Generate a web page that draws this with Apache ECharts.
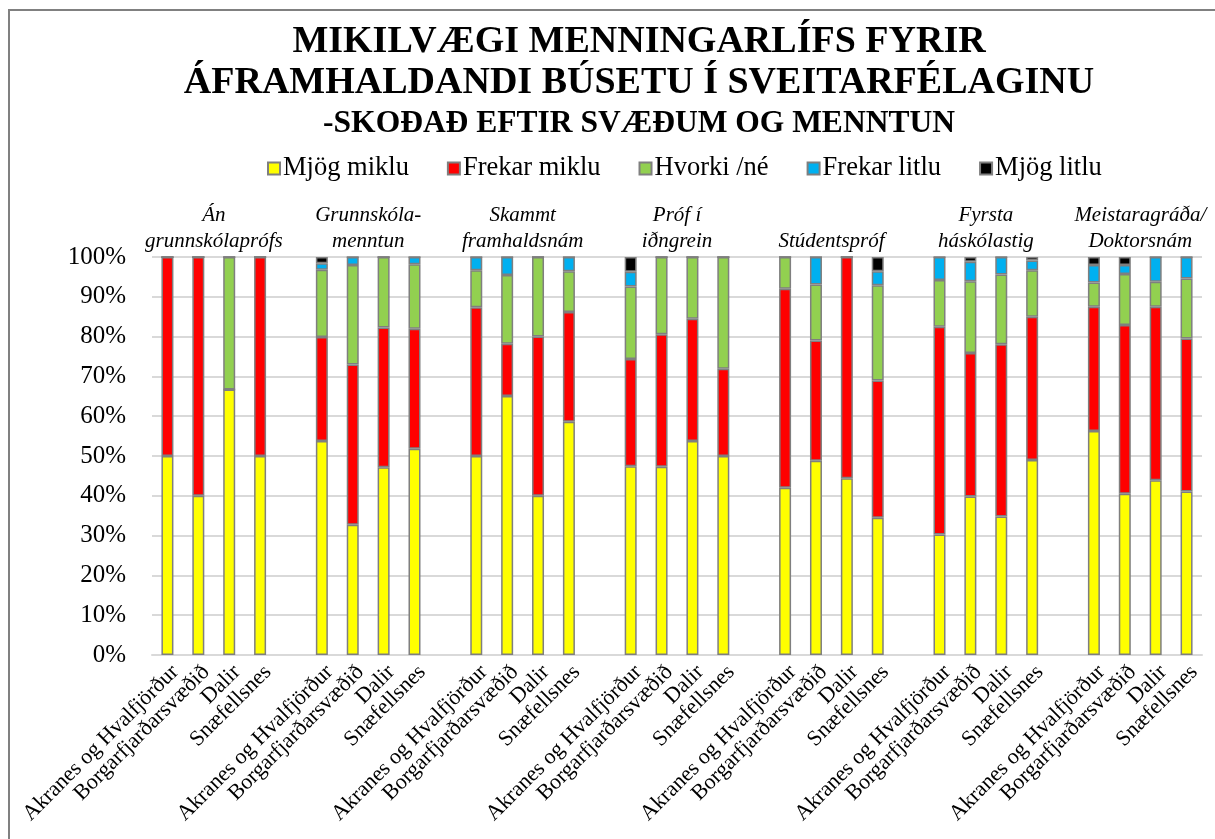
<!DOCTYPE html>
<html>
<head>
<meta charset="utf-8">
<script src="https://cdn.jsdelivr.net/npm/echarts@6/dist/echarts.min.js"></script>
<style>
  html, body { margin: 0; padding: 0; background: #fff; }
  #chart { width: 1215px; height: 839px; }
</style>
</head>
<body>
<div id="chart"></div>
<script>
// svæði og menntunarhópar
const regions = ["Akranes og Hvalfjörður", "Borgarfjarðarsvæðið", "Dalir", "Snæfellsnes"];
const groups = [
  "Án\ngrunnskólaprófs",
  "Grunnskóla-\nmenntun",
  "Skammt\nframhaldsnám",
  "Próf í\niðngrein",
  "Stúdentspróf",
  "Fyrsta\nháskólastig",
  "Meistaragráða/\nDoktorsnám",
];
const seriesNames = ["Mjög miklu", "Frekar miklu", "Hvorki /né", "Frekar litlu", "Mjög litlu"];
const seriesColors = ["#FFFF00", "#FF0000", "#92D050", "#00B0F0", "#000000"];
const yTicks = [0, 10, 20, 30, 40, 50, 60, 70, 80, 90, 100];

// % eftir hópi (4 svæði í hverjum hópi)
const mjogMiklu = [50, 40, 66.7, 50, 53.8, 32.7, 47.2, 51.8, 50, 65.1, 40, 58.6, 47.4, 47.3, 53.8, 50,
  42, 48.8, 44.4, 34.5, 30.3, 39.8, 34.8, 49, 56.3, 40.5, 43.9, 41.1];
const frekarMiklu = [50, 60, 0, 50, 26.1, 40.3, 35.1, 30.2, 37.4, 13.1, 40, 27.6, 27.0, 33.3, 30.7, 21.9,
  50, 30.2, 55.6, 34.5, 52.2, 36.1, 43.3, 36, 31.2, 42.4, 43.6, 38.4];
const hvorki = [0, 0, 33.3, 0, 16.9, 25, 17.7, 16.2, 9.3, 17.3, 20, 10.2, 18.2, 19.4, 15.5, 28.1,
  8, 14.1, 0, 23.9, 11.7, 18, 17.5, 11.7, 6.1, 12.8, 6.3, 15.1];
const frekarLitlu = [0, 0, 0, 0, 1.6, 2, 0, 1.8, 3.3, 4.5, 0, 3.6, 3.7, 0, 0, 0,
  0, 6.9, 0, 3.5, 5.8, 4.9, 4.4, 2.4, 4.4, 2.3, 6.2, 5.4];
const mjogLitlu = [0, 0, 0, 0, 1.6, 0, 0, 0, 0, 0, 0, 0, 3.7, 0, 0, 0,
  0, 0, 0, 3.6, 0, 1.2, 0, 0.9, 2.0, 2.0, 0, 0];
const allValues = [mjogMiklu, frekarMiklu, hvorki, frekarLitlu, mjogLitlu];

// flokkar með auðu bili milli hópa
let categories = [];
let groupAt = {};
groups.forEach((g, gi) => {
  if (gi > 0) categories.push("");
  groupAt[categories.length + 1] = g;
  regions.forEach(r => categories.push(r));
});

function withGaps(vals) {
  let out = [];
  for (let gi = 0; gi < groups.length; gi++) {
    if (gi > 0) out.push(null);
    for (let ri = 0; ri < regions.length; ri++) out.push(vals[gi * regions.length + ri]);
  }
  return out;
}

const font = "Liberation Serif";
const chart = echarts.init(document.getElementById("chart"));

const option = {
  animation: false,
  graphic: [{
    type: "rect",
    shape: { x: 9, y: 10, width: 1300, height: 900 },
    style: { fill: "none", stroke: "#808080", lineWidth: 2 },
    silent: true,
  }],
  title: {
    text: "MIKILVÆGI MENNINGARLÍFS FYRIR\nÁFRAMHALDANDI BÚSETU Í SVEITARFÉLAGINU",
    subtext: "-SKOÐAÐ EFTIR SVÆÐUM OG MENNTUN",
    left: 634,
    textAlign: "center",
    top: 17,
    itemGap: 2,
    textStyle: { fontFamily: font, fontSize: 38, fontWeight: "bold", color: "#000", lineHeight: 41 },
    subtextStyle: { fontFamily: font, fontSize: 31.5, fontWeight: "bold", color: "#000", lineHeight: 36 },
  },
  legend: {
    data: seriesNames,
    left: 262,
    top: 150,
    icon: "rect",
    itemWidth: 12,
    itemHeight: 12,
    itemGap: 38,
    textStyle: { fontFamily: font, fontSize: 26.5, color: "#000", padding: [0, 0, 0, -2] },
  },
  grid: { left: 152, right: 13, top: 257, bottom: 184 },
  xAxis: [
    {
      type: "category",
      data: categories,
      axisLine: { lineStyle: { color: "#d9d9d9", width: 2 } },
      axisTick: { show: false },
      axisLabel: {
        interval: 0,
        rotate: 45,
        margin: 6,
        verticalAlign: "top",
        fontFamily: font,
        fontSize: 22,
        color: "#000",
      },
    },
    {
      type: "category",
      position: "top",
      data: categories,
      axisLine: { show: false },
      axisTick: { show: false },
      axisLabel: {
        interval: 0,
        margin: 3,
        fontFamily: font,
        fontStyle: "italic",
        fontSize: 21,
        lineHeight: 26,
        color: "#000",
        padding: [0, 0, 0, 31],
        formatter: (v, i) => groupAt[i] || "",
      },
    },
  ],
  yAxis: {
    type: "value",
    min: 0,
    max: 100,
    interval: 10,
    axisLine: { show: false },
    axisTick: { show: false },
    splitLine: { lineStyle: { color: "#d9d9d9", width: 2 } },
    axisLabel: {
      margin: 26,
      fontFamily: font,
      fontSize: 25,
      color: "#000",
      formatter: v => (yTicks.includes(v) ? v + "%" : ""),
    },
  },
  series: seriesNames.map((name, i) => ({
    name: name,
    type: "bar",
    stack: "total",
    barWidth: 12,
    data: withGaps(allValues[i]),
    itemStyle: { color: seriesColors[i], borderColor: "#7f7f7f", borderWidth: 1.5 },
  })),
};
chart.setOption(option);
</script>
</body>
</html>
